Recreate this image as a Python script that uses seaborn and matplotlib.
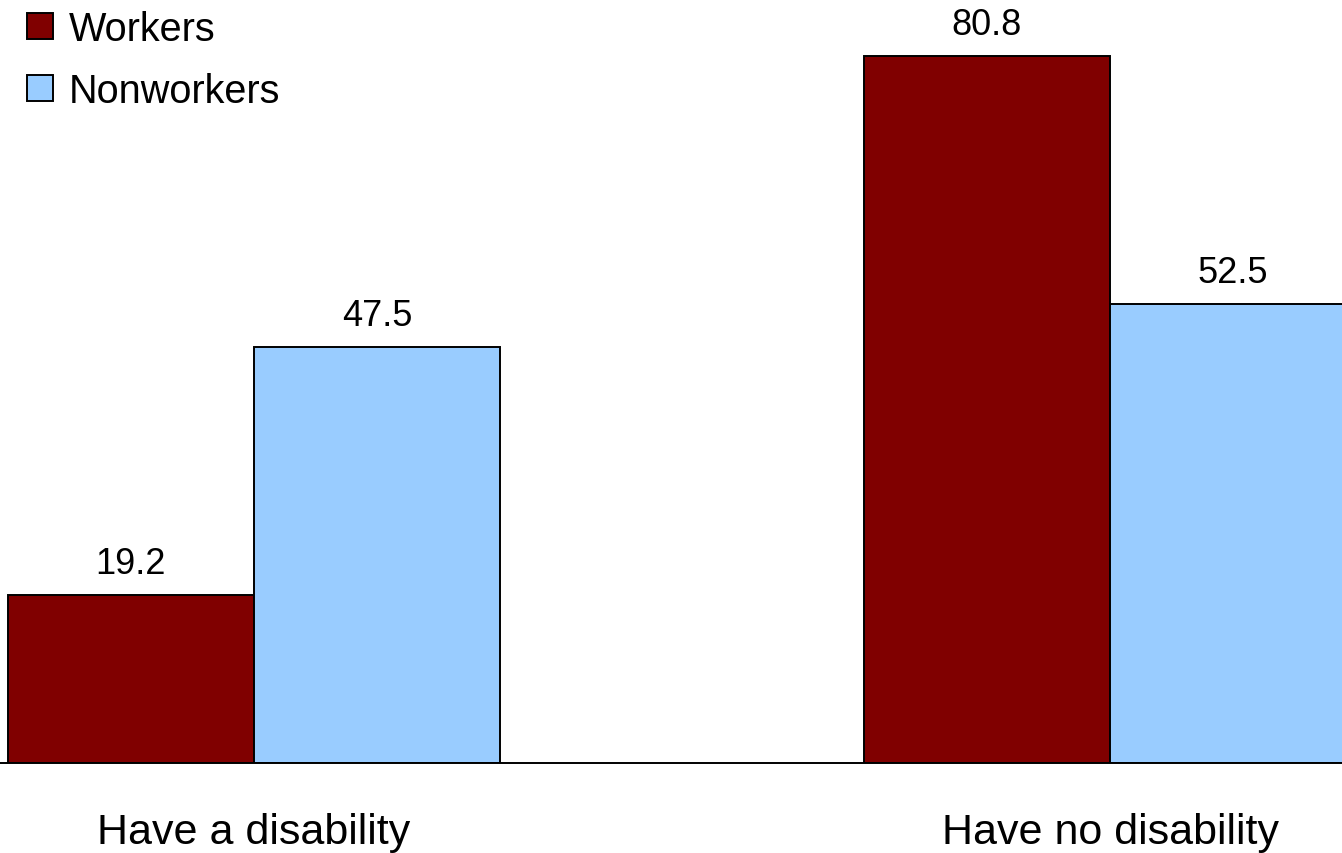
import matplotlib
matplotlib.use("Agg")
import matplotlib.pyplot as plt
import seaborn as sns
import pandas as pd

categories = ["Have a disability", "Have no disability"]
groups = ["Workers", "Nonworkers"]
workers = [19.2, 80.8]
nonworkers = [47.5, 52.5]
colors = ["#800000", "#99CCFF"]

df = pd.DataFrame({
    "category": categories * 2,
    "group": [groups[0]] * 2 + [groups[1]] * 2,
    "value": workers + nonworkers,
})

sns.set_theme(style="white")
plt.rcParams["font.family"] = ["Liberation Sans", "DejaVu Sans"]
plt.rcParams["text.color"] = "black"

W, H = 1342, 854
fig = plt.figure(figsize=(W / 100, H / 100), dpi=100)
base_px = 764
ax = fig.add_axes([0, (H - base_px) / H, 1, base_px / H])

sns.barplot(data=df, x="category", y="value", hue="group", order=categories,
            hue_order=groups, palette=colors, width=0.575, edgecolor="black",
            linewidth=1.4, saturation=1, ax=ax, legend=True)

px_per_unit = 8.75
ax.set_ylim(0, base_px / px_per_unit)
group_gap_px = 856
ax.set_xlim(-254 / group_gap_px, (W - 254) / group_gap_px)

for c in ax.containers:
    ax.bar_label(c, fmt="%.1f", padding=10, fontsize=26, color="black")

ax.set_xlabel("")
ax.set_ylabel("")
ax.set_yticks([])
ax.tick_params(axis="x", length=0, pad=35, labelsize=31, colors="black")
for s in ["top", "right", "left"]:
    ax.spines[s].set_visible(False)
ax.spines["bottom"].set_color("black")
ax.spines["bottom"].set_linewidth(1.4)

leg = ax.legend(loc="upper left", bbox_to_anchor=(27 / W, 1 - 11 / H),
                bbox_transform=fig.transFigure, frameon=False, fontsize=28.5,
                handlelength=0.66, handleheight=0.66, handletextpad=0.4,
                labelspacing=0.6, borderaxespad=0, borderpad=0,
                labelcolor="black")

fig.savefig("out.png", dpi=100)
